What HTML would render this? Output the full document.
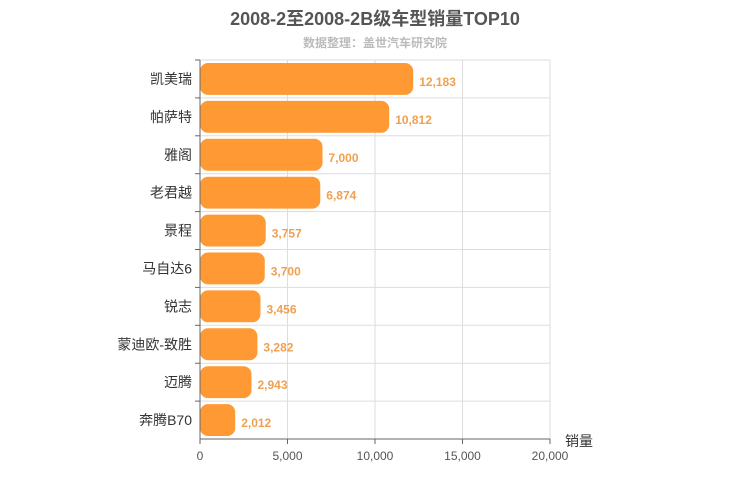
<!DOCTYPE html>
<html><head><meta charset="utf-8"><style>
body{margin:0;background:#fff;}
svg{display:block;font-family:"Liberation Sans","Noto Sans CJK SC",sans-serif;}
</style></head><body>
<svg id="c" width="750" height="500">
<text x="375" y="25" text-anchor="middle" font-size="18" font-weight="bold" fill="#555">2008-2至2008-2B级车型销量TOP10</text>
<text x="375" y="47" text-anchor="middle" font-size="12" font-weight="bold" fill="#bbb">数据整理：盖世汽车研究院</text>
<text x="565" y="446" font-size="14" fill="#333">销量</text>
</svg>
<script>
const categories=["凯美瑞","帕萨特","雅阁","老君越","景程","马自达6","锐志","蒙迪欧-致胜","迈腾","奔腾B70"];
const values=[12183,10812,7000,6874,3757,3700,3456,3282,2943,2012];
const ticks=[0,5000,10000,15000,20000];
const svg=document.getElementById('c');
const NS="http://www.w3.org/2000/svg";
const X0=200,X1=550,Y0=60,Y1=439,MAX=20000;
const x=v=>X0+(X1-X0)*v/MAX;
const rh=(Y1-Y0)/categories.length;
const y=i=>Y0+rh*i;
function mk(t,a){const e=document.createElementNS(NS,t);for(const k in a)e.setAttribute(k,a[k]);svg.appendChild(e);return e;}
for(let i=0;i<=categories.length;i++){const g=mk('line',{x1:X0,x2:X1,y1:y(i),y2:y(i),stroke:'#ddd'});

}
ticks.forEach(t=>{if(t===0)return;const g=mk('line',{x1:x(t),x2:x(t),y1:Y0,y2:Y1,stroke:'#ddd'});

});
const fmt=v=>v.toLocaleString('en-US');
categories.forEach((c,i)=>{
 const r=mk('rect',{x:X0,y:y(i)+3,width:x(values[i])-X0,height:rh-6,rx:8,fill:'#ff9933'});
 
 
 const l=mk('text',{x:192,y:y(i)+rh/2+5,'text-anchor':'end','font-size':14,fill:'#333'});l.textContent=c;
 
 
 const v=mk('text',{x:x(values[i])+6,y:y(i)+rh/2+7,'font-size':12,'font-weight':'bold',fill:'#f0a050'});v.textContent=fmt(values[i]);
 
 
 const tk=mk('line',{x1:X0-5,x2:X0,y1:y(i),y2:y(i),stroke:'#666'});
 
 
});
const ya=mk('line',{x1:X0,x2:X0,y1:Y0,y2:Y1,stroke:'#666'});


const xa=mk('line',{x1:X0,x2:X1,y1:Y1,y2:Y1,stroke:'#666'});


ticks.forEach(t=>{
 const k=mk('line',{x1:x(t),x2:x(t),y1:Y1,y2:Y1+5,stroke:'#666'});
 
 
 const l=mk('text',{x:x(t),y:Y1+21,'text-anchor':'middle','font-size':12,fill:'#555'});l.textContent=fmt(t);
 
 
});
</script>
</body></html>
